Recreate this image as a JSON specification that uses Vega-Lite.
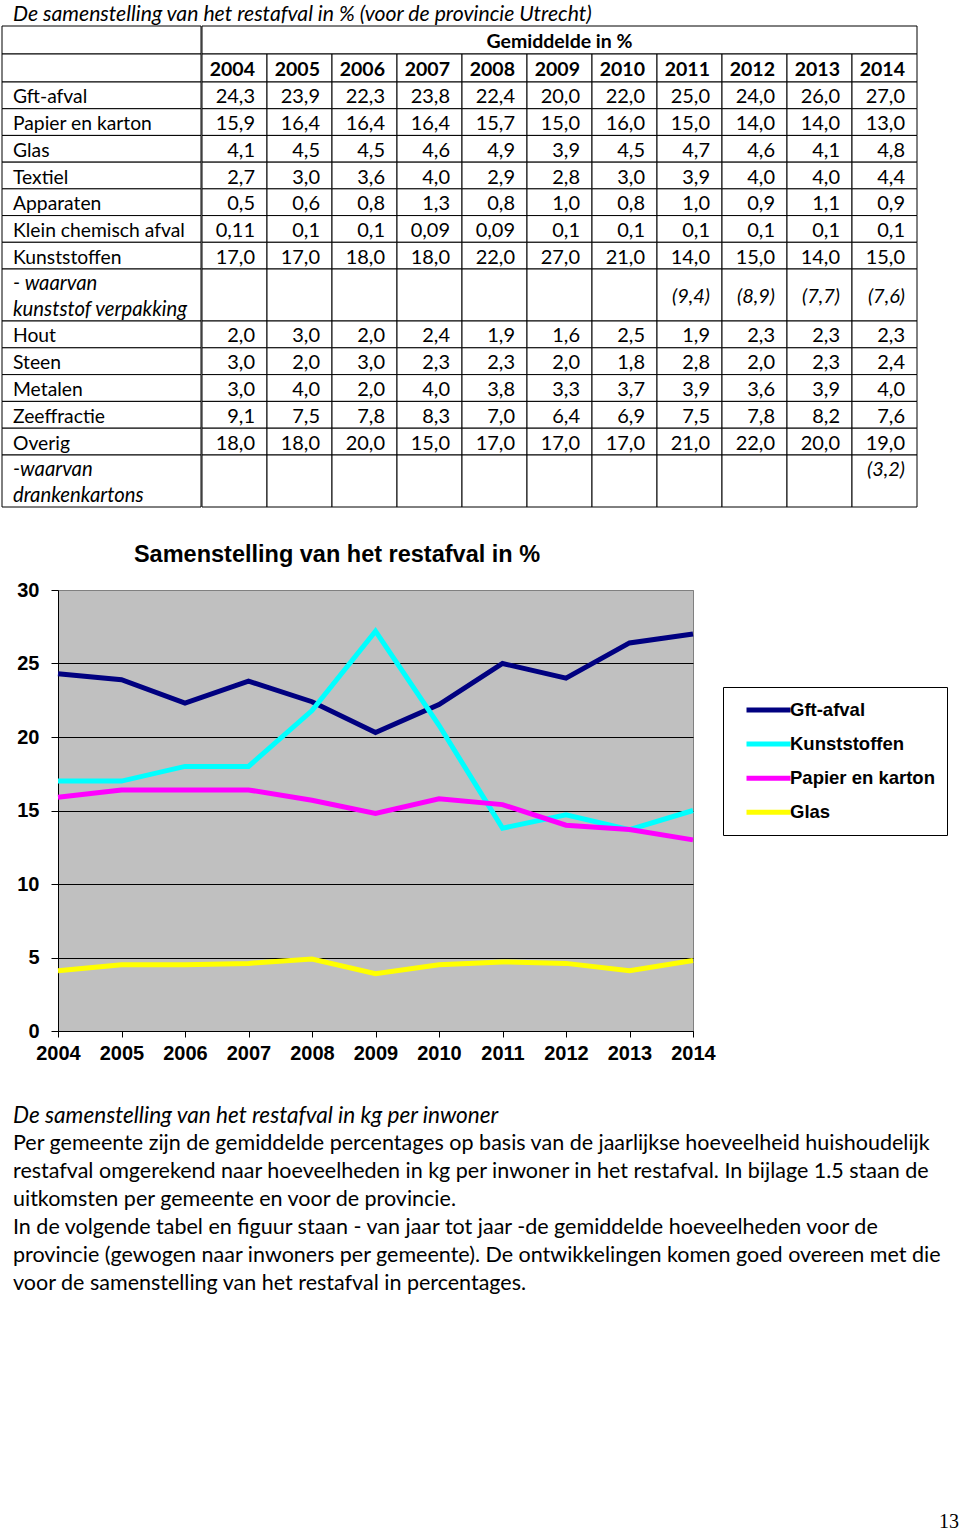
{
  "$schema": "https://vega.github.io/schema/vega-lite/v6.json",
  "padding": {"left": 1, "top": 0, "right": 0, "bottom": 0},
  "background": "white",
  "config": {"view": {"stroke": null}, "text": {"color": "black"}, "concat": {"spacing": 0}},
  "spacing": 0,
  "datasets": {
    "years": [
      {"year": "2004", "r": "yr"}, {"year": "2005", "r": "yr"}, {"year": "2006", "r": "yr"}, {"year": "2007", "r": "yr"},
      {"year": "2008", "r": "yr"}, {"year": "2009", "r": "yr"}, {"year": "2010", "r": "yr"}, {"year": "2011", "r": "yr"},
      {"year": "2012", "r": "yr"}, {"year": "2013", "r": "yr"}, {"year": "2014", "r": "yr"}
    ],
    "rowsA": [
      {"row": "Gft-afval", "2004": "24,3", "2005": "23,9", "2006": "22,3", "2007": "23,8", "2008": "22,4", "2009": "20,0", "2010": "22,0", "2011": "25,0", "2012": "24,0", "2013": "26,0", "2014": "27,0"},
      {"row": "Papier en karton", "2004": "15,9", "2005": "16,4", "2006": "16,4", "2007": "16,4", "2008": "15,7", "2009": "15,0", "2010": "16,0", "2011": "15,0", "2012": "14,0", "2013": "14,0", "2014": "13,0"},
      {"row": "Glas", "2004": "4,1", "2005": "4,5", "2006": "4,5", "2007": "4,6", "2008": "4,9", "2009": "3,9", "2010": "4,5", "2011": "4,7", "2012": "4,6", "2013": "4,1", "2014": "4,8"},
      {"row": "Textiel", "2004": "2,7", "2005": "3,0", "2006": "3,6", "2007": "4,0", "2008": "2,9", "2009": "2,8", "2010": "3,0", "2011": "3,9", "2012": "4,0", "2013": "4,0", "2014": "4,4"},
      {"row": "Apparaten", "2004": "0,5", "2005": "0,6", "2006": "0,8", "2007": "1,3", "2008": "0,8", "2009": "1,0", "2010": "0,8", "2011": "1,0", "2012": "0,9", "2013": "1,1", "2014": "0,9"},
      {"row": "Klein chemisch afval", "2004": "0,11", "2005": "0,1", "2006": "0,1", "2007": "0,09", "2008": "0,09", "2009": "0,1", "2010": "0,1", "2011": "0,1", "2012": "0,1", "2013": "0,1", "2014": "0,1"},
      {"row": "Kunststoffen", "2004": "17,0", "2005": "17,0", "2006": "18,0", "2007": "18,0", "2008": "22,0", "2009": "27,0", "2010": "21,0", "2011": "14,0", "2012": "15,0", "2013": "14,0", "2014": "15,0"}
    ],
    "rowsC": [
      {"row": "Hout", "2004": "2,0", "2005": "3,0", "2006": "2,0", "2007": "2,4", "2008": "1,9", "2009": "1,6", "2010": "2,5", "2011": "1,9", "2012": "2,3", "2013": "2,3", "2014": "2,3"},
      {"row": "Steen", "2004": "3,0", "2005": "2,0", "2006": "3,0", "2007": "2,3", "2008": "2,3", "2009": "2,0", "2010": "1,8", "2011": "2,8", "2012": "2,0", "2013": "2,3", "2014": "2,4"},
      {"row": "Metalen", "2004": "3,0", "2005": "4,0", "2006": "2,0", "2007": "4,0", "2008": "3,8", "2009": "3,3", "2010": "3,7", "2011": "3,9", "2012": "3,6", "2013": "3,9", "2014": "4,0"},
      {"row": "Zeeffractie", "2004": "9,1", "2005": "7,5", "2006": "7,8", "2007": "8,3", "2008": "7,0", "2009": "6,4", "2010": "6,9", "2011": "7,5", "2012": "7,8", "2013": "8,2", "2014": "7,6"},
      {"row": "Overig", "2004": "18,0", "2005": "18,0", "2006": "20,0", "2007": "15,0", "2008": "17,0", "2009": "17,0", "2010": "17,0", "2011": "21,0", "2012": "22,0", "2013": "20,0", "2014": "19,0"}
    ],
    "chart": [
      {"year": "2004", "series": "Gft-afval", "value": 24.3}, {"year": "2005", "series": "Gft-afval", "value": 23.9},
      {"year": "2006", "series": "Gft-afval", "value": 22.3}, {"year": "2007", "series": "Gft-afval", "value": 23.8},
      {"year": "2008", "series": "Gft-afval", "value": 22.4}, {"year": "2009", "series": "Gft-afval", "value": 20.3},
      {"year": "2010", "series": "Gft-afval", "value": 22.2}, {"year": "2011", "series": "Gft-afval", "value": 25.0},
      {"year": "2012", "series": "Gft-afval", "value": 24.0}, {"year": "2013", "series": "Gft-afval", "value": 26.4},
      {"year": "2014", "series": "Gft-afval", "value": 27.0},
      {"year": "2004", "series": "Kunststoffen", "value": 17.0}, {"year": "2005", "series": "Kunststoffen", "value": 17.0},
      {"year": "2006", "series": "Kunststoffen", "value": 18.0}, {"year": "2007", "series": "Kunststoffen", "value": 18.0},
      {"year": "2008", "series": "Kunststoffen", "value": 21.8}, {"year": "2009", "series": "Kunststoffen", "value": 27.2},
      {"year": "2010", "series": "Kunststoffen", "value": 20.8}, {"year": "2011", "series": "Kunststoffen", "value": 13.8},
      {"year": "2012", "series": "Kunststoffen", "value": 14.7}, {"year": "2013", "series": "Kunststoffen", "value": 13.7},
      {"year": "2014", "series": "Kunststoffen", "value": 15.0},
      {"year": "2004", "series": "Papier en karton", "value": 15.9}, {"year": "2005", "series": "Papier en karton", "value": 16.4},
      {"year": "2006", "series": "Papier en karton", "value": 16.4}, {"year": "2007", "series": "Papier en karton", "value": 16.4},
      {"year": "2008", "series": "Papier en karton", "value": 15.7}, {"year": "2009", "series": "Papier en karton", "value": 14.8},
      {"year": "2010", "series": "Papier en karton", "value": 15.8}, {"year": "2011", "series": "Papier en karton", "value": 15.4},
      {"year": "2012", "series": "Papier en karton", "value": 14.0}, {"year": "2013", "series": "Papier en karton", "value": 13.7},
      {"year": "2014", "series": "Papier en karton", "value": 13.0},
      {"year": "2004", "series": "Glas", "value": 4.1}, {"year": "2005", "series": "Glas", "value": 4.5},
      {"year": "2006", "series": "Glas", "value": 4.5}, {"year": "2007", "series": "Glas", "value": 4.6},
      {"year": "2008", "series": "Glas", "value": 4.9}, {"year": "2009", "series": "Glas", "value": 3.9},
      {"year": "2010", "series": "Glas", "value": 4.5}, {"year": "2011", "series": "Glas", "value": 4.7},
      {"year": "2012", "series": "Glas", "value": 4.6}, {"year": "2013", "series": "Glas", "value": 4.1},
      {"year": "2014", "series": "Glas", "value": 4.8}
    ],
    "lines": [
      {"n": 1, "k": "h", "t": "De samenstelling van het restafval in kg per inwoner"},
      {"n": 2, "k": "b", "t": "Per gemeente zijn de gemiddelde percentages op basis van de jaarlijkse hoeveelheid huishoudelijk"},
      {"n": 3, "k": "b", "t": "restafval omgerekend naar hoeveelheden in kg per inwoner in het restafval. In bijlage 1.5 staan de"},
      {"n": 4, "k": "b", "t": "uitkomsten per gemeente en voor de provincie."},
      {"n": 5, "k": "b", "t": "In de volgende tabel en figuur staan - van jaar tot jaar -de gemiddelde hoeveelheden voor de"},
      {"n": 6, "k": "b", "t": "provincie (gewogen naar inwoners per gemeente). De ontwikkelingen komen goed overeen met die"},
      {"n": 7, "k": "b", "t": "voor de samenstelling van het restafval in percentages."}
    ]
  },
  "vconcat": [
    {
      "width": 914, "height": 25,
      "data": {"values": [{"t": "De samenstelling van het restafval in % (voor de provincie Utrecht)"}]},
      "mark": {"type": "text", "align": "left", "baseline": "top", "dx": 11, "dy": -9, "font": "Lato", "fontSize": 21.2, "fontStyle": "italic", "color": "black"},
      "encoding": {
        "x": {"datum": 0, "type": "quantitative", "scale": {"domain": [0, 1]}, "axis": null},
        "text": {"field": "t"}
      }
    },
    {
      "hconcat": [
        {
          "vconcat": [
            {
              "width": 199, "height": 56,
              "data": {"values": [{"r": "hdr"}, {"r": "yr"}]},
              "mark": {"type": "rect", "fill": "white", "stroke": "black", "strokeWidth": 1},
              "encoding": {"y": {"field": "r", "type": "nominal", "scale": {"domain": ["hdr", "yr"], "paddingInner": 0, "paddingOuter": 0}, "axis": null}}
            },
            {
              "width": 199, "height": 187,
              "data": {"name": "rowsA"},
              "layer": [
                {
                  "mark": {"type": "rect", "fill": "white", "stroke": "black", "strokeWidth": 1},
                  "encoding": {"y": {"field": "row", "type": "nominal", "sort": null, "scale": {"paddingInner": 0, "paddingOuter": 0}, "axis": null}}
                },
                {
                  "mark": {"type": "text", "align": "left", "baseline": "middle", "dx": 11, "dy": 2, "font": "Lato", "fontSize": 19.3, "color": "black"},
                  "encoding": {
                    "y": {"field": "row", "type": "nominal", "sort": null, "axis": null},
                    "x": {"datum": 0, "type": "quantitative", "scale": {"domain": [0, 1]}, "axis": null},
                    "text": {"field": "row"}
                  }
                }
              ]
            },
            {
              "width": 199, "height": 52,
              "layer": [
                {
                  "data": {"values": [{"cell": "waarvan"}]},
                  "mark": {"type": "rect", "fill": "white", "stroke": "black", "strokeWidth": 1},
                  "encoding": {}
                },
                {
                  "data": {"values": [{"line": "a", "t": "- waarvan"}, {"line": "b", "t": "kunststof verpakking"}]},
                  "mark": {"type": "text", "align": "left", "baseline": "middle", "dx": 11, "dy": 2, "font": "Lato", "fontSize": 20.3, "fontStyle": "italic", "color": "black"},
                  "encoding": {
                    "y": {"field": "line", "type": "nominal", "scale": {"domain": ["a", "b"], "paddingInner": 0, "paddingOuter": 0}, "axis": null},
                    "x": {"datum": 0, "type": "quantitative", "scale": {"domain": [0, 1]}, "axis": null},
                    "text": {"field": "t"}
                  }
                }
              ]
            },
            {
              "width": 199, "height": 134,
              "data": {"name": "rowsC"},
              "layer": [
                {
                  "mark": {"type": "rect", "fill": "white", "stroke": "black", "strokeWidth": 1},
                  "encoding": {"y": {"field": "row", "type": "nominal", "sort": null, "scale": {"paddingInner": 0, "paddingOuter": 0}, "axis": null}}
                },
                {
                  "mark": {"type": "text", "align": "left", "baseline": "middle", "dx": 11, "dy": 2, "font": "Lato", "fontSize": 19.3, "color": "black"},
                  "encoding": {
                    "y": {"field": "row", "type": "nominal", "sort": null, "axis": null},
                    "x": {"datum": 0, "type": "quantitative", "scale": {"domain": [0, 1]}, "axis": null},
                    "text": {"field": "row"}
                  }
                }
              ]
            },
            {
              "width": 199, "height": 52,
              "layer": [
                {
                  "data": {"values": [{"cell": "waarvan"}]},
                  "mark": {"type": "rect", "fill": "white", "stroke": "black", "strokeWidth": 1},
                  "encoding": {}
                },
                {
                  "data": {"values": [{"line": "a", "t": "-waarvan"}, {"line": "b", "t": "drankenkartons"}]},
                  "mark": {"type": "text", "align": "left", "baseline": "middle", "dx": 11, "dy": 2, "font": "Lato", "fontSize": 20.3, "fontStyle": "italic", "color": "black"},
                  "encoding": {
                    "y": {"field": "line", "type": "nominal", "scale": {"domain": ["a", "b"], "paddingInner": 0, "paddingOuter": 0}, "axis": null},
                    "x": {"datum": 0, "type": "quantitative", "scale": {"domain": [0, 1]}, "axis": null},
                    "text": {"field": "t"}
                  }
                }
              ]
            }
          ],
          "spacing": 0, "bounds": "flush"
        },
        {
          "vconcat": [
            {
              "width": 715, "height": 56,
              "layer": [
                {
                  "data": {"values": [{"r": "hdr", "t": "Gemiddelde in %"}]},
                  "mark": {"type": "rect", "fill": "white", "stroke": "black", "strokeWidth": 1},
                  "encoding": {"y": {"field": "r", "type": "nominal", "scale": {"domain": ["hdr", "yr"], "paddingInner": 0, "paddingOuter": 0}, "axis": null}}
                },
                {
                  "data": {"values": [{"r": "hdr", "t": "Gemiddelde in %"}]},
                  "mark": {"type": "text", "baseline": "middle", "dy": 2, "font": "Lato", "fontSize": 19.5, "fontWeight": "bold", "color": "black"},
                  "encoding": {
                    "y": {"field": "r", "type": "nominal", "axis": null},
                    "text": {"field": "t"}
                  }
                },
                {
                  "data": {"name": "years"},
                  "mark": {"type": "rect", "fill": "white", "stroke": "black", "strokeWidth": 1},
                  "encoding": {
                    "x": {"field": "year", "type": "nominal", "scale": {"paddingInner": 0, "paddingOuter": 0}, "axis": null},
                    "y": {"field": "r", "type": "nominal", "axis": null}
                  }
                },
                {
                  "data": {"name": "years"},
                  "mark": {"type": "text", "align": "right", "baseline": "middle", "dx": -12, "dy": 2, "font": "Lato", "fontSize": 19.5, "fontWeight": "bold", "color": "black"},
                  "encoding": {
                    "x": {"field": "year", "type": "nominal", "bandPosition": 1, "axis": null},
                    "y": {"field": "r", "type": "nominal", "axis": null},
                    "text": {"field": "year"}
                  }
                }
              ]
            },
            {
              "width": 715, "height": 187,
              "data": {"name": "rowsA"},
              "transform": [{"fold": ["2004", "2005", "2006", "2007", "2008", "2009", "2010", "2011", "2012", "2013", "2014"], "as": ["year", "value"]}],
              "layer": [
                {
                  "mark": {"type": "rect", "fill": "white", "stroke": "black", "strokeWidth": 1},
                  "encoding": {
                    "x": {"field": "year", "type": "nominal", "scale": {"paddingInner": 0, "paddingOuter": 0}, "axis": null},
                    "y": {"field": "row", "type": "nominal", "sort": null, "scale": {"paddingInner": 0, "paddingOuter": 0}, "axis": null}
                  }
                },
                {
                  "mark": {"type": "text", "align": "right", "baseline": "middle", "dx": -12, "dy": 2, "font": "Lato", "fontSize": 20, "color": "black"},
                  "encoding": {
                    "x": {"field": "year", "type": "nominal", "bandPosition": 1, "axis": null},
                    "y": {"field": "row", "type": "nominal", "sort": null, "axis": null},
                    "text": {"field": "value"}
                  }
                }
              ]
            },
            {
              "width": 715, "height": 52,
              "layer": [
                {
                  "data": {"name": "years"},
                  "mark": {"type": "rect", "fill": "white", "stroke": "black", "strokeWidth": 1},
                  "encoding": {"x": {"field": "year", "type": "nominal", "scale": {"paddingInner": 0, "paddingOuter": 0}, "axis": null}}
                },
                {
                  "data": {"values": [{"year": "2011", "v": "(9,4)"}, {"year": "2012", "v": "(8,9)"}, {"year": "2013", "v": "(7,7)"}, {"year": "2014", "v": "(7,6)"}]},
                  "mark": {"type": "text", "align": "right", "baseline": "middle", "dx": -12, "dy": 2, "font": "Lato", "fontSize": 20, "fontStyle": "italic", "color": "black"},
                  "encoding": {
                    "x": {"field": "year", "type": "nominal", "bandPosition": 1, "axis": null},
                    "text": {"field": "v"}
                  }
                }
              ]
            },
            {
              "width": 715, "height": 134,
              "data": {"name": "rowsC"},
              "transform": [{"fold": ["2004", "2005", "2006", "2007", "2008", "2009", "2010", "2011", "2012", "2013", "2014"], "as": ["year", "value"]}],
              "layer": [
                {
                  "mark": {"type": "rect", "fill": "white", "stroke": "black", "strokeWidth": 1},
                  "encoding": {
                    "x": {"field": "year", "type": "nominal", "scale": {"paddingInner": 0, "paddingOuter": 0}, "axis": null},
                    "y": {"field": "row", "type": "nominal", "sort": null, "scale": {"paddingInner": 0, "paddingOuter": 0}, "axis": null}
                  }
                },
                {
                  "mark": {"type": "text", "align": "right", "baseline": "middle", "dx": -12, "dy": 2, "font": "Lato", "fontSize": 20, "color": "black"},
                  "encoding": {
                    "x": {"field": "year", "type": "nominal", "bandPosition": 1, "axis": null},
                    "y": {"field": "row", "type": "nominal", "sort": null, "axis": null},
                    "text": {"field": "value"}
                  }
                }
              ]
            },
            {
              "width": 715, "height": 52,
              "layer": [
                {
                  "data": {"name": "years"},
                  "mark": {"type": "rect", "fill": "white", "stroke": "black", "strokeWidth": 1},
                  "encoding": {"x": {"field": "year", "type": "nominal", "scale": {"paddingInner": 0, "paddingOuter": 0}, "axis": null}}
                },
                {
                  "data": {"values": [{"year": "2014", "line": "a", "v": "(3,2)"}]},
                  "mark": {"type": "text", "align": "right", "baseline": "middle", "dx": -12, "dy": 2, "font": "Lato", "fontSize": 20, "fontStyle": "italic", "color": "black"},
                  "encoding": {
                    "x": {"field": "year", "type": "nominal", "bandPosition": 1, "axis": null},
                    "y": {"field": "line", "type": "nominal", "scale": {"domain": ["a", "b"], "paddingInner": 0, "paddingOuter": 0}, "axis": null},
                    "text": {"field": "v"}
                  }
                }
              ]
            }
          ],
          "spacing": 0, "bounds": "flush"
        }
      ],
      "spacing": -1
    },
    {
      "width": 670, "height": 71,
      "data": {"values": [{"t": "Samenstelling van het restafval in %"}]},
      "mark": {"type": "text", "baseline": "middle", "dy": 11, "font": "Liberation Sans", "fontSize": 23.5, "fontWeight": "bold", "color": "black"},
      "encoding": {"text": {"field": "t"}}
    },
    {
      "hconcat": [
        {
          "width": 56, "height": 511,
          "data": {"values": []},
          "mark": "point"
        },
        {
          "width": 635, "height": 441,
          "data": {"name": "chart"},
          "view": {"fill": "#C0C0C0", "stroke": "#808080", "strokeWidth": 1},
          "mark": {"type": "line", "strokeWidth": 5},
          "encoding": {
            "x": {
              "field": "year", "type": "ordinal",
              "scale": {"type": "point", "padding": 0},
              "axis": {"title": null, "labelAngle": 0, "labelFont": "Liberation Sans", "labelFontWeight": "bold", "labelFontSize": 20, "labelColor": "black", "domainColor": "black", "domainWidth": 1, "tickColor": "black", "tickSize": 6, "labelPadding": 6, "grid": false, "labelOverlap": false}
            },
            "y": {
              "field": "value", "type": "quantitative",
              "scale": {"domain": [0, 30], "nice": false},
              "axis": {"title": null, "values": [0, 5, 10, 15, 20, 25, 30], "grid": true, "gridColor": {"condition": {"test": "datum.value === 30", "value": "#808080"}, "value": "black"}, "gridOpacity": 1, "gridWidth": 1, "domainColor": "black", "domainWidth": 1, "tickColor": "black", "tickSize": 7, "labelPadding": 12, "labelFont": "Liberation Sans", "labelFontWeight": "bold", "labelFontSize": 20, "labelColor": "black", "labelFlush": false, "labelOverlap": false}
            },
            "color": {
              "field": "series", "type": "nominal",
              "scale": {"domain": ["Gft-afval", "Kunststoffen", "Papier en karton", "Glas"], "range": ["#000080", "#00FFFF", "#FF00FF", "#FFFF00"]},
              "legend": {"orient": "none", "legendX": 721, "legendY": 687, "title": null, "symbolType": "M0.06,0H5.24", "symbolSize": 289, "symbolStrokeWidth": 5, "labelFont": "Liberation Sans", "labelFontWeight": "bold", "labelFontSize": 18.5, "labelColor": "black", "labelOffset": 33, "rowPadding": 13.1, "padding": 12, "strokeColor": "black", "fillColor": "white", "labelLimit": 400}
            }
          }
        }
      ],
      "spacing": 0, "bounds": "flush"
    },
    {
      "width": 948, "height": 196,
      "data": {"name": "lines"},
      "layer": [
        {
          "transform": [{"filter": "datum.k === 'h'"}],
          "mark": {"type": "text", "align": "left", "baseline": "middle", "dx": 11, "dy": 1, "font": "Lato", "fontSize": 22.6, "fontStyle": "italic", "color": "black"},
          "encoding": {
            "y": {"field": "n", "type": "ordinal", "scale": {"domain": [1, 2, 3, 4, 5, 6, 7], "paddingInner": 0, "paddingOuter": 0}, "axis": null},
            "x": {"datum": 0, "type": "quantitative", "scale": {"domain": [0, 1]}, "axis": null},
            "text": {"field": "t"}
          }
        },
        {
          "transform": [{"filter": "datum.k === 'b'"}],
          "mark": {"type": "text", "align": "left", "baseline": "middle", "dx": 11, "dy": 1, "font": "Lato", "fontSize": 21.5, "color": "black"},
          "encoding": {
            "y": {"field": "n", "type": "ordinal", "axis": null},
            "x": {"datum": 0, "type": "quantitative", "axis": null},
            "text": {"field": "t"}
          }
        }
      ]
    },
    {
      "width": 957, "height": 233,
      "data": {"values": [{"t": "13"}]},
      "mark": {"type": "text", "align": "right", "baseline": "alphabetic", "dy": -2, "font": "Liberation Serif", "fontSize": 20, "color": "black"},
      "encoding": {
        "x": {"datum": 1, "type": "quantitative", "scale": {"domain": [0, 1]}, "axis": null},
        "y": {"datum": 0, "type": "quantitative", "scale": {"domain": [0, 1]}, "axis": null},
        "text": {"field": "t"}
      }
    }
  ]
}
